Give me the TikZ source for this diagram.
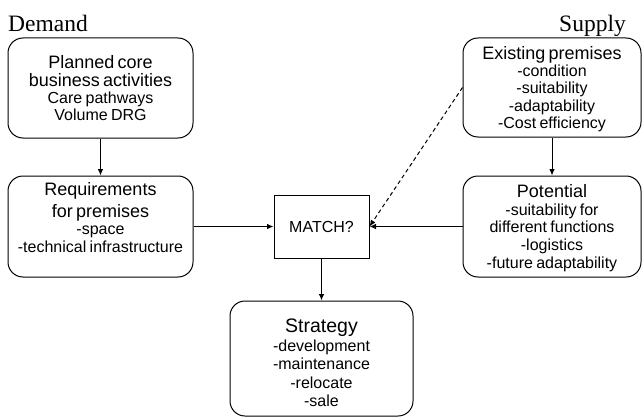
\documentclass[tikz,border=0pt]{standalone}
\usepackage{fontspec}
\setmainfont{Liberation Sans}
\newfontfamily\serifface{Liberation Serif}
\usetikzlibrary{arrows.meta}

% heading and body sizes; the second number is the line pitch
\newcommand\hd[1]{\fontsize{18}{#1}\selectfont}
\newcommand\bd[1]{\fontsize{16}{#1}\selectfont}

\begin{document}
\begin{tikzpicture}[x=1pt,y=-1pt,
  box/.style={draw, line width=1pt, rounded corners=15pt, inner sep=0pt},
  boxtext/.style={inner sep=0pt, anchor=north, text width=#1},
  boxtext/.default=176pt,
  square/.style={draw, line width=1pt, align=center, inner sep=0pt,
    font=\bd{17}},
  side/.style={font=\serifface\fontsize{23.5}{26}\selectfont, inner sep=0pt},
  flow/.style={line width=1pt, -{Latex[length=6.5pt,width=5.5pt]}},
  hint/.style={flow, dashed, dash pattern=on 4pt off 3pt}]
  \useasboundingbox (0,0) rectangle (642,417);

  % column headings
  \node[side, anchor=base west] (demand) at (8,32) {Demand};
  \node[side, anchor=base east] (supply) at (626,32) {Supply};

  % demand side
  \node[box, minimum width=185pt, minimum height=100pt] (plan) at (100.5,88) {};
  \node[boxtext] (plantext) at (100.5,55.1)
    {\centering\hd{18.5}Planned core\par business activities\par
     \bd{17}Care pathways\par Volume DRG\par};
  \node[box, minimum width=185pt, minimum height=101pt] (req) at (100.5,226.5) {};
  \node[boxtext] (reqtext) at (100.5,182.1)
    {\centering\hd{22}Requirements\par for premises\par
     \bd{17.5}-space\par -technical infrastructure\par};

  % supply side
  \node[box, minimum width=178pt, minimum height=99pt] (exist) at (552,87.5) {};
  \node[boxtext=170pt] (existtext) at (552,46.1)
    {\centering\hd{18}Existing premises\par
     \bd{17.3}-condition\par -suitability\par -adaptability\par -Cost efficiency\par};
  \node[box, minimum width=178pt, minimum height=101pt] (pot) at (552,226.5) {};
  \node[boxtext=170pt] (pottext) at (552,184.1)
    {\centering\hd{18}Potential\par
     \bd{17.75}-suitability for\par different functions\par -logistics\par -future adaptability\par};

  % centre
  \node[square, minimum width=95pt, minimum height=63pt] (match) at (321.5,226.5)
    {MATCH?};
  \node[box, minimum width=183pt, minimum height=115pt] (strat) at (321.5,358.5) {};
  \node[boxtext] (strattext) at (321.5,319)
    {\centering\fontsize{19.5}{21}\selectfont Strategy\par
     \bd{18.5}-development\par -maintenance\par -relocate\par -sale\par};

  % connectors
  \draw[flow] (plan) -- (req);
  \draw[flow] (exist) -- (pot);
  \draw[flow] (req) -- (match);
  \draw[flow] (pot) -- (match);
  \draw[hint] (exist.west) -- (match.east);
  \draw[flow] (match) -- (strat);
\end{tikzpicture}
\end{document}
